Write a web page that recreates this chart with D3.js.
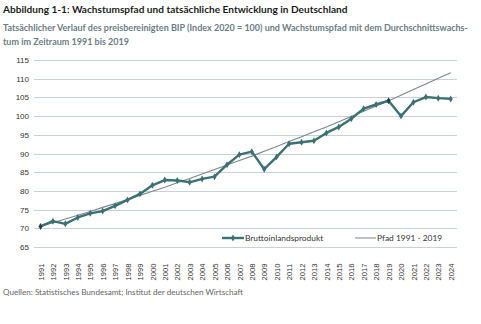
<!DOCTYPE html>
<html>
<head>
<meta charset="utf-8">
<title>Wachstumspfad</title>
<script src="https://cdn.jsdelivr.net/npm/d3@7"></script>
<style>
  body { margin: 0; background: #fff; font-family: Lato, "Open Sans", sans-serif; }
  .grid line { stroke: #c9d1d8; stroke-width: 1; shape-rendering: crispEdges; }
  .axis text { font-size: 8px; fill: #333; }
  .axis path, .axis line { display: none; }
</style>
</head>
<body>
<script>
var years = d3.range(1991, 2025);
var bip = [70.5, 71.9, 71.2, 72.9, 74.0, 74.6, 76.0, 77.6, 79.2, 81.5,
           82.9, 82.8, 82.3, 83.2, 83.8, 87.0, 89.7, 90.5, 85.8, 89.1,
           92.6, 93.0, 93.4, 95.5, 97.1, 99.3, 102.0, 103.1, 104.1, 100.0,
           103.7, 105.1, 104.8, 104.6];
var pfad = [70.5, 71.5, 72.5, 73.5, 74.5, 75.6, 76.6, 77.7, 78.8, 79.9,
            81.0, 82.2, 83.3, 84.5, 85.7, 86.9, 88.1, 89.3, 90.6, 91.9,
            93.2, 94.5, 95.8, 97.1, 98.5, 99.9, 101.3, 102.7, 104.1, 105.6,
            107.1, 108.6, 110.1, 111.6];
var yTicks = [65, 70, 75, 80, 85, 90, 95, 100, 105, 110, 115];

var W = 481, H = 324;
var svg = d3.select("body").append("svg").attr("width", W).attr("height", H);

svg.append("text").attr("x", 3).attr("y", 13)
  .style("font-size", "10.1px").style("font-weight", "bold").style("fill", "#1b1b1b")
  .text("Abbildung 1-1: Wachstumspfad und tatsächliche Entwicklung in Deutschland");
var sub = svg.append("text").style("font-size", "9px").style("font-weight", "bold").style("fill", "#6b7d84");
sub.append("tspan").attr("x", 3).attr("y", 31)
  .text("Tatsächlicher Verlauf des preisbereinigten BIP (Index 2020 = 100) und Wachstumspfad mit dem Durchschnittswachs-");
sub.append("tspan").attr("x", 3).attr("y", 45).text("tum im Zeitraum 1991 bis 2019");

var x = d3.scalePoint().domain(years).range([40.5, 450.7]);
var y = d3.scaleLinear().domain([65, 115]).range([247, 60]);

svg.append("g").attr("class", "grid")
  .selectAll("line").data(yTicks).enter().append("line")
  .attr("x1", 34).attr("x2", 457)
  .attr("y1", function(d) { return Math.round(y(d)) + 0.5; })
  .attr("y2", function(d) { return Math.round(y(d)) + 0.5; });

svg.append("g").attr("class", "axis")
  .attr("transform", "translate(29,0)")
  .call(d3.axisLeft(y).tickValues(yTicks).tickSize(0).tickPadding(0));

svg.append("g").attr("class", "axis")
  .attr("transform", "translate(0,252)")
  .call(d3.axisBottom(x).tickSize(0))
  .selectAll("text")
  .style("font-size", "7.6px")
  .attr("transform", "rotate(-90)")
  .attr("x", -20).attr("y", 0).attr("dy", "0.35em")
  .style("text-anchor", "middle");

var line = d3.line()
  .x(function(d, i) { return x(years[i]); })
  .y(function(d) { return y(d); });

svg.append("path").datum(pfad).attr("d", line)
  .attr("fill", "none").attr("stroke", "#7d8590").attr("stroke-width", 1.1);

svg.append("path").datum(bip).attr("d", line)
  .attr("fill", "none").attr("stroke", "#3b7174").attr("stroke-width", 2.4)
  .attr("stroke-linejoin", "round");

var diamond = d3.symbol().type(d3.symbolDiamond).size(14);
svg.selectAll(".pt").data(bip).enter().append("path")
  .attr("class", "pt")
  .attr("d", diamond)
  .attr("transform", function(d, i) { return "translate(" + x(years[i]) + "," + y(d) + ")"; })
  .attr("fill", function(d, i) { return (years[i] === 1991 || years[i] === 2019) ? "#263c48" : "#3b7174"; });

// legend
var lg = svg.append("g").attr("transform", "translate(0,238)");
lg.append("line").attr("x1", 222).attr("x2", 244).attr("y1", 0).attr("y2", 0)
  .attr("stroke", "#3b7174").attr("stroke-width", 2.4);
lg.append("path").attr("d", diamond).attr("transform", "translate(233,0)").attr("fill", "#3b7174");
lg.append("text").attr("x", 245).attr("y", 3).style("font-size", "8.4px").style("fill", "#333")
  .text("Bruttoinlandsprodukt");
lg.append("line").attr("x1", 355).attr("x2", 376).attr("y1", 0).attr("y2", 0)
  .attr("stroke", "#7d8590").attr("stroke-width", 1);
lg.append("text").attr("x", 377).attr("y", 3).style("font-size", "8.4px").style("fill", "#333")
  .text("Pfad 1991 - 2019");

svg.append("text").attr("x", 3).attr("y", 295)
  .style("font-size", "8.1px").style("fill", "#666")
  .text("Quellen: Statistisches Bundesamt; Institut der deutschen Wirtschaft");
</script>
</body>
</html>
